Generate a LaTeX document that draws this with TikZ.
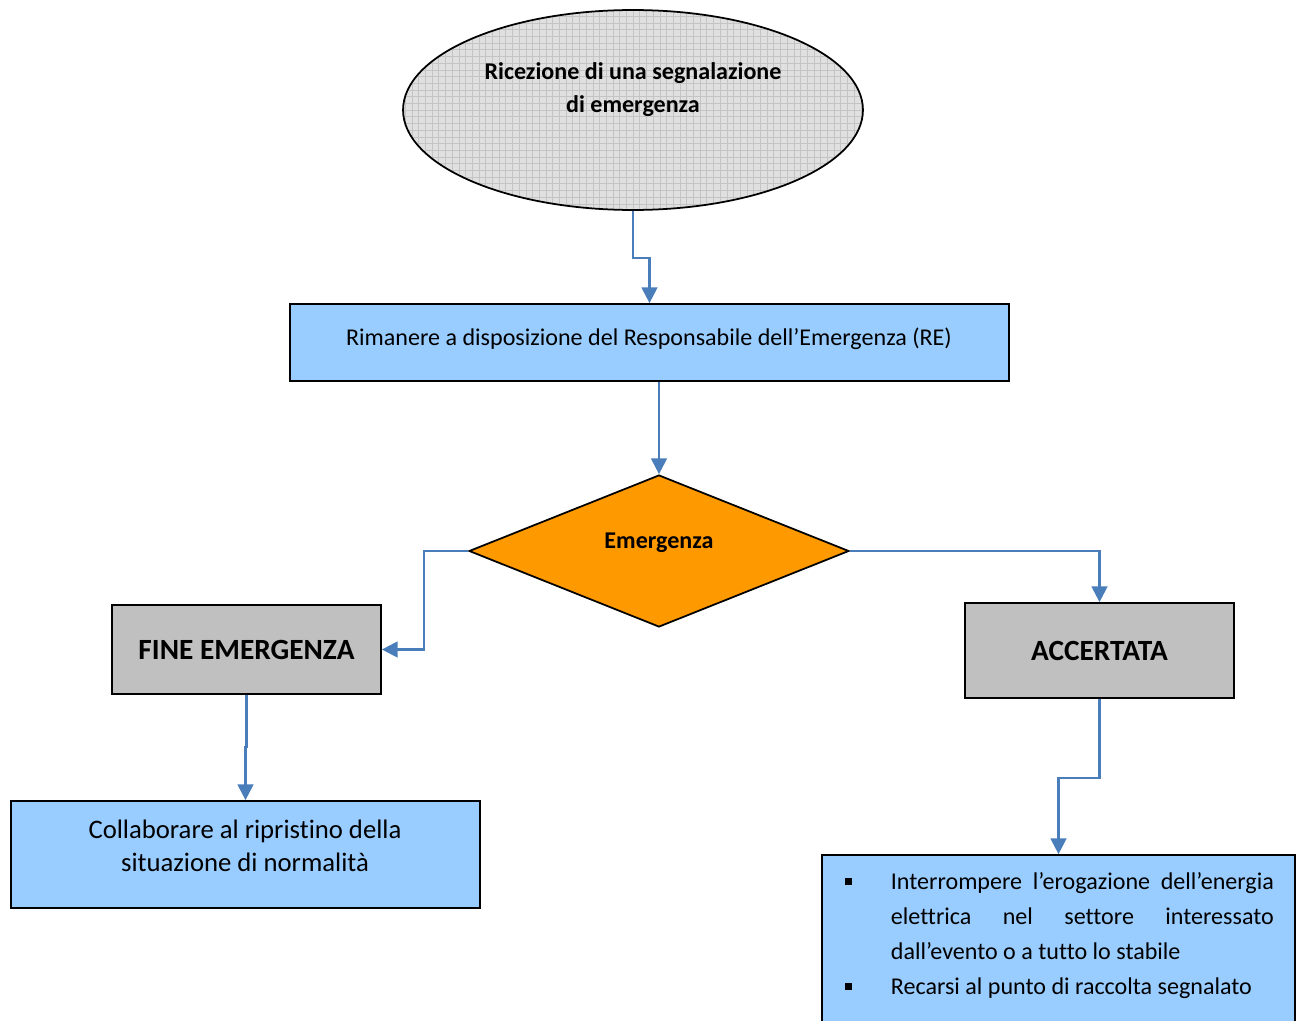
\documentclass[tikz,border=0pt]{standalone}
\usepackage{fontspec}
\setmainfont{Carlito}[Ligatures=NoCommon]
\usetikzlibrary{%
  arrows,%
  arrows.meta,%
  shapes,% wg. ellipse, diamond
  calc
}
\definecolor{boxblue}{HTML}{99CCFF}
\definecolor{boxgray}{HTML}{C0C0C0}
\definecolor{dorange}{HTML}{FF9900}
\definecolor{ellgray}{HTML}{E0E0E0}
\definecolor{gridgray}{HTML}{C4C4C4}
\definecolor{flowblue}{HTML}{4A7EBB}
\hyphenpenalty=10000

\begin{document}
\begin{tikzpicture}[
  x=0.02cm, y=-0.02cm,
  font=\fontsize{13.7}{19}\selectfont,
  line width=1pt,
  flow/.style={draw=flowblue, line width=1.3pt, -{Triangle[length=9pt,width=9pt]}},
  box/.style={draw, rectangle, inner sep=0pt},
  bluebox/.style={box, fill=boxblue},
  graybox/.style={box, fill=boxgray, font=\fontsize{16.7}{19}\selectfont\bfseries}
]
\useasboundingbox (0,0) rectangle (1302,1021);
\clip (0,0) rectangle (1302,1021);

% start
\node[ellipse, draw, fill=ellgray, minimum width=9.2cm, minimum height=4cm, inner sep=0pt,
  path picture={\draw[gridgray, line width=0.3pt, step=0.134cm]
    (path picture bounding box.south west) grid (path picture bounding box.north east);}]
  (ell) at (633,110) {};
\node[font=\fontsize{13.7}{18.8}\selectfont\bfseries, align=center] (elltxt) at (633,90)
  {Ricezione di una segnalazione\\di emergenza};

\node[bluebox, minimum width=14.38cm, minimum height=1.54cm] (wait) at (649.5,342.5) {};
\node (waittxt) at (649,339) {Rimanere a disposizione del Responsabile dell’Emergenza (RE)};

% decision
\node[diamond, draw, fill=dorange, minimum width=7.6cm, minimum height=3.04cm, inner sep=0pt]
  (dec) at (659,551) {};
\node[font=\fontsize{13.7}{19}\selectfont\bfseries] (dectxt) at (659,543) {Emergenza};

\node[graybox, minimum width=5.38cm, minimum height=1.78cm] (fine) at (246.5,649.5) {FINE EMERGENZA};
\node[graybox, minimum width=5.38cm, minimum height=1.9cm] (acc) at (1099.5,650.5) {ACCERTATA};

\node[bluebox, minimum width=9.38cm, minimum height=2.14cm] (coll) at (245.5,854.5) {};
\node[align=center, font=\fontsize{15.2}{18.8}\selectfont] (colltxt) at (245,845.5)
  {Collaborare al ripristino della\\situazione di normalità};

\node[bluebox, minimum width=9.46cm, minimum height=3.7cm] (steps) at (1058.5,947.5) {};
\node[anchor=north west, inner sep=0pt, text width=7.66cm, align=justify,
  font=\fontsize{13.7}{19.9}\selectfont] (stepstxt) at (890,872)
  {\noindent\llap{\rule[0.2em]{0.14cm}{0.14cm}\hspace{0.77cm}}Interrompere l’erogazione dell’energia\linebreak
   elettrica nel settore interessato\linebreak dall’evento o a tutto lo stabile\par
   \noindent\llap{\rule[0.2em]{0.14cm}{0.14cm}\hspace{0.77cm}}Recarsi al punto di raccolta segnalato};

% connectors
\draw[flow] (ell.south) -- ++(0,47) -| (wait.north);
\draw[flow] (wait.south -| dec.north) -- (dec.north);
\draw[flow] (dec.west) -- ++(-44,0) |- (fine.east);
\draw[flow] (dec.east) -| (acc.north);
\draw[flow] (fine.south) -- ++(0,52) -| (coll.north);
\draw[flow] (acc.south) -- ++(0,79) -| (steps.north);

\end{tikzpicture}
\end{document}
